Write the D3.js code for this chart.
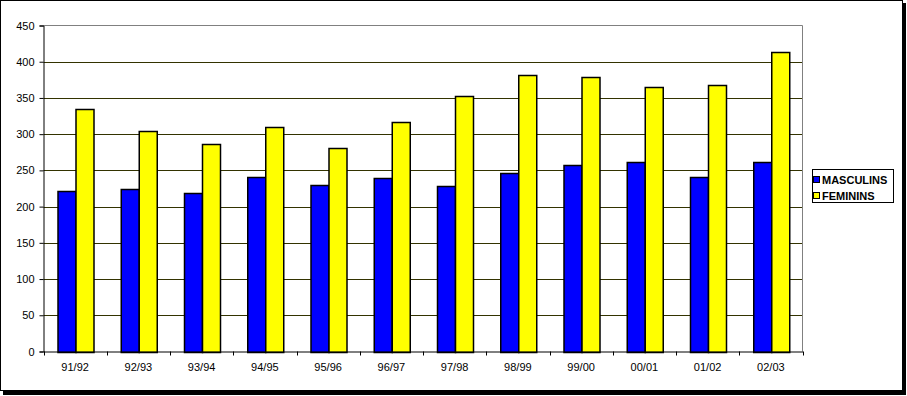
<!DOCTYPE html>
<html>
<head>
<meta charset="utf-8">
<script src="https://cdn.jsdelivr.net/npm/d3@7"></script>
<style>
body{margin:0;background:#fff;}
text{font-family:Arial,"Liberation Sans",sans-serif;}
</style>
</head>
<body>
<div id="canvas"></div>
<script>
var years = ['91/92','92/93','93/94','94/95','95/96','96/97','97/98','98/99','99/00','00/01','01/02','02/03'];
var masculins = [222,224,219,241,230,239,228,247,258,262,241,261];
var feminins = [335,305,287,310,281,317,352,382,379,365,368,413];
var seriesNames = ['MASCULINS','FEMININS'];
var seriesColors = ['#0000ff','#ffff00'];
var yTicks = [0,50,100,150,200,250,300,350,400,450];

var W = 907, H = 396;
var svg = d3.select('#canvas').append('svg').attr('width',W).attr('height',H);

// frame with shadow
svg.append('rect').attr('x',3).attr('y',3).attr('width',903).attr('height',392).attr('fill','#000');
svg.append('rect').attr('x',0.5).attr('y',0.5).attr('width',902).attr('height',390)
    .attr('fill','#fff').attr('stroke','#000');

var m = {l:43.5, t:25.5, r:802.5, b:351.5};
var x = d3.scaleBand().domain(years).range([m.l,m.r]).paddingInner(0).paddingOuter(0);
var y = d3.scaleLinear().domain([0,450]).range([m.b,m.t]);
var inner = d3.scaleBand().domain([0,1]).range([0,x.bandwidth()]).paddingInner(0).paddingOuter(0.75);

// gridlines
svg.append('g').selectAll('line').data(yTicks.filter(function(d){return d>0 && d<450;}))
  .enter().append('line')
    .attr('x1',m.l).attr('x2',m.r)
    .attr('y1',function(d){return Math.round(y(d))+0.5;})
    .attr('y2',function(d){return Math.round(y(d))+0.5;})
    .attr('stroke','#333300');

// plot border top/right gray
svg.append('path').attr('d','M'+m.l+','+m.t+'H'+m.r+'V'+m.b)
    .attr('fill','none').attr('stroke','#808080');

// bars
var data = years.map(function(d,i){return [masculins[i],feminins[i]];});
var groups = svg.append('g').selectAll('g').data(data).enter().append('g')
    .attr('transform',function(d,i){return 'translate('+x(years[i])+',0)';});
groups.selectAll('rect').data(function(d){return d;}).enter().append('rect')
    .attr('x',function(d,j){return Math.round(inner(j))+0.5;})
    .attr('width',function(){return Math.round(inner.bandwidth());})
    .attr('y',function(d){return Math.round(y(d))+0.5;})
    .attr('height',function(d){return Math.round(y(0))-Math.round(y(d));})
    .attr('fill',function(d,j){return seriesColors[j];})
    .attr('stroke','#000').attr('stroke-width',1.5);

// y axis
var axisY = d3.axisLeft(y).tickValues(yTicks).tickSize(4).tickPadding(5);
var gy = svg.append('g').attr('transform','translate('+m.l+',0)').call(axisY);
gy.select('.domain').attr('stroke','#000');
gy.selectAll('text').style('font-size','11px').attr('fill','#000');

// x axis
var axisX = d3.axisBottom(x).tickSize(0).tickPadding(12);
var gx = svg.append('g').attr('transform','translate(0,'+m.b+')').call(axisX);
gx.select('.domain').attr('stroke','#000');
gx.selectAll('text').style('font-size','11px').attr('fill','#000');
gx.selectAll('.boundary').data(d3.range(years.length+1)).enter().append('line')
    .attr('class','boundary')
    .attr('x1',function(i){return Math.round(m.l + i*x.step())+0.5;})
    .attr('x2',function(i){return Math.round(m.l + i*x.step())+0.5;})
    .attr('y1',0).attr('y2',4).attr('stroke','#000');

// legend
var lg = svg.append('g').attr('transform','translate(812.5,169.5)');
lg.append('rect').attr('width',81).attr('height',33).attr('fill','#fff').attr('stroke','#000');
seriesNames.forEach(function(name,i){
  var row = lg.append('g').attr('transform','translate(0,'+(7+i*16)+')');
  row.append('rect').attr('x',1).attr('y',0).attr('width',6).attr('height',6)
      .attr('fill',seriesColors[i]).attr('stroke','#000');
  var t = row.append('text').attr('x',9.5).attr('y',7.5).text(name)
      .style('font-size','11px').style('font-weight','bold');
  // squeeze to fit the legend box like the original
  var len = t.node().getComputedTextLength();
  var maxLen = i === 0 ? 69 : 61;
  if (len > maxLen) t.attr('textLength',maxLen).attr('lengthAdjust','spacingAndGlyphs');
});
</script>
</body>
</html>
